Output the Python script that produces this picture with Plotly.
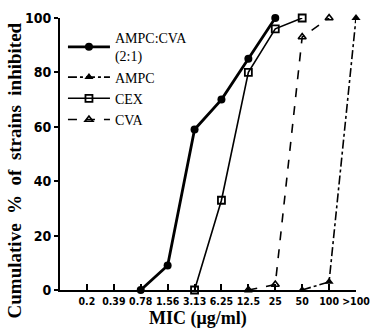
import plotly.graph_objects as go

categories = ["0.2", "0.39", "0.78", "1.56", "3.13", "6.25", "12.5", "25", "50", "100", ">100"]

ampc_cva_x = ["0.78", "1.56", "3.13", "6.25", "12.5", "25"]
ampc_cva_y = [0, 9, 59, 70, 85, 100]

ampc_x = ["50", "100", ">100"]
ampc_y = [0, 3, 100]

cex_x = ["3.13", "6.25", "12.5", "25", "50"]
cex_y = [0, 33, 80, 96, 100]

cva_x = ["12.5", "25", "50", "100"]
cva_y = [0, 2, 93, 100]

y_ticks = [0, 20, 40, 60, 80, 100]


def pos(xs):
    return [categories.index(c) + 1 for c in xs]


fig = go.Figure()
fig.add_trace(go.Scatter(
    x=pos(ampc_cva_x), y=ampc_cva_y, name="AMPC:CVA<br>(2:1)", mode="lines+markers",
    line=dict(color="black", width=2.8),
    marker=dict(symbol="circle", size=8, color="black"),
))
fig.add_trace(go.Scatter(
    x=pos(ampc_x), y=ampc_y, name="AMPC", mode="lines+markers",
    line=dict(color="black", width=1.6, dash="dashdot"),
    marker=dict(symbol="triangle-up", size=8, color="black"),
))
fig.add_trace(go.Scatter(
    x=pos(cex_x), y=cex_y, name="CEX", mode="lines+markers",
    line=dict(color="black", width=1.6),
    marker=dict(symbol="square-open", size=7, color="black", line=dict(width=1.8)),
))
fig.add_trace(go.Scatter(
    x=pos(cva_x), y=cva_y, name="CVA", mode="lines+markers",
    line=dict(color="black", width=1.6, dash="dash"),
    marker=dict(symbol="triangle-up-open", size=7, color="black", line=dict(width=1.6)),
))
for tr in fig.data:
    tr.cliponaxis = False

fig.update_layout(
    width=371, height=333,
    margin=dict(l=60, r=15, t=18, b=43, autoexpand=False),
    paper_bgcolor="white", plot_bgcolor="white",
    showlegend=True,
    legend=dict(
        x=0.01, y=0.985, xanchor="left", yanchor="top",
        font=dict(family="Liberation Serif", size=14, color="black"),
        bgcolor="rgba(0,0,0,0)", tracegroupgap=0, itemwidth=42,
    ),
    xaxis=dict(
        range=[0, 11], tickmode="array",
        tickvals=list(range(1, len(categories) + 1)), ticktext=categories,
        tickangle=0,
        showgrid=False, zeroline=False, showline=True, linecolor="black", linewidth=2,
        ticks="inside", ticklen=6, tickwidth=1.5, tickcolor="black",
        tickfont=dict(family="DejaVu Sans Condensed", size=10.5, color="black", weight="bold"),
    ),
    yaxis=dict(
        range=[0, 100], tickmode="array", tickvals=y_ticks,
        showgrid=False, zeroline=False, showline=True, linecolor="black", linewidth=2,
        ticks="outside", ticklen=4, tickwidth=1.5, tickcolor="black",
        tickfont=dict(family="DejaVu Sans Condensed", size=14, color="black", weight="bold"),
    ),
    annotations=[
        dict(text="Cumulative  %  of  strains  inhibited", textangle=-90,
             xref="paper", yref="paper", x=-0.155, y=0.44, xanchor="center", yanchor="middle",
             showarrow=False, font=dict(family="Liberation Serif", size=19, color="black", weight="bold")),
        dict(text="MIC (μg/ml)",
             xref="paper", yref="paper", x=0.465, y=-0.103, xanchor="center", yanchor="middle",
             showarrow=False, font=dict(family="Liberation Serif", size=18, color="black", weight="bold")),
    ],
)

fig.write_html("out.html", config={"displayModeBar": False},
               post_script="document.body.style.margin='0';")
